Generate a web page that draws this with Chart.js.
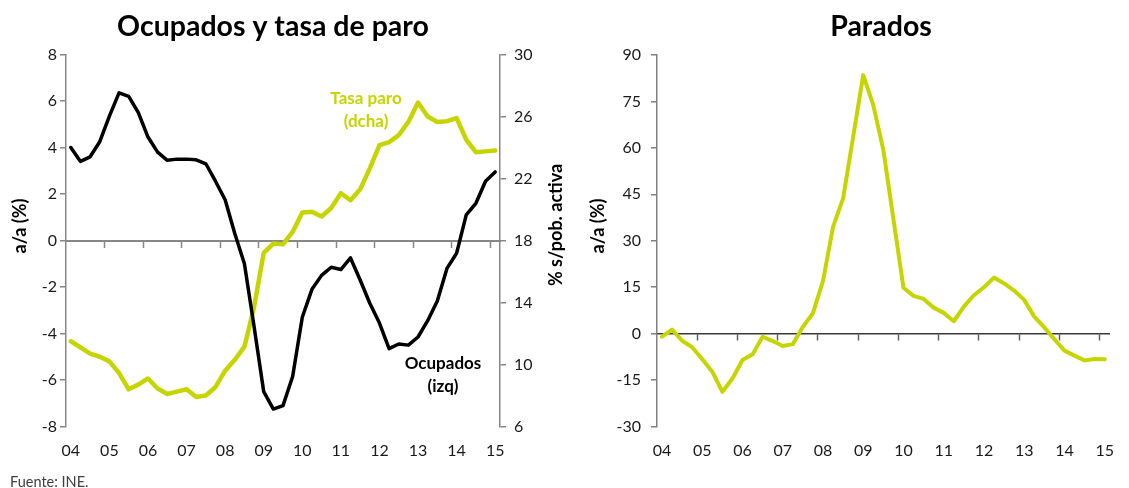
<!DOCTYPE html>
<html><head><meta charset="utf-8">
<script src="https://cdn.jsdelivr.net/npm/chart.js@4.4.1/dist/chart.umd.min.js"></script>
<style>
html,body{margin:0;padding:0;background:#fff;}
#wrap{position:relative;width:1129px;height:488px;overflow:hidden;background:#fff;}
#c1{position:absolute;left:0;top:0;}
#c2{position:absolute;left:570px;top:0;}
</style></head><body>
<div id="wrap"><canvas id="c1" width="570" height="488"></canvas><canvas id="c2" width="559" height="488"></canvas></div>
<script>
// ---- data ----
const quarters = [
 '2004T1','2004T2','2004T3','2004T4','2005T1','2005T2','2005T3','2005T4',
 '2006T1','2006T2','2006T3','2006T4','2007T1','2007T2','2007T3','2007T4',
 '2008T1','2008T2','2008T3','2008T4','2009T1','2009T2','2009T3','2009T4',
 '2010T1','2010T2','2010T3','2010T4','2011T1','2011T2','2011T3','2011T4',
 '2012T1','2012T2','2012T3','2012T4','2013T1','2013T2','2013T3','2013T4',
 '2014T1','2014T2','2014T3','2014T4','2015T1'];
const yearTicks = ['04','05','06','07','08','09','10','11','12','13','14','15'];
const ocupados = [4.0,3.4,3.6,4.25,5.35,6.35,6.2,5.5,4.45,3.8,3.45,3.5,3.5,3.47,3.3,2.55,
 1.75,0.3,-1.0,-3.7,-6.5,-7.25,-7.1,-5.85,-3.3,-2.1,-1.5,-1.15,-1.25,-0.75,-1.7,-2.7,
 -3.55,-4.65,-4.45,-4.5,-4.15,-3.45,-2.6,-1.2,-0.55,1.1,1.6,2.55,2.95];
const tasaParo = [11.5,11.1,10.7,10.5,10.2,9.45,8.4,8.7,9.1,8.45,8.1,8.25,8.4,7.9,8.0,8.55,
 9.6,10.3,11.15,13.7,17.2,17.8,17.75,18.55,19.8,19.85,19.55,20.1,21.05,20.6,21.3,22.65,
 24.15,24.35,24.8,25.65,26.9,26.0,25.65,25.7,25.9,24.5,23.7,23.75,23.8];
const parados = [-1.0,1.3,-2.3,-4.4,-8.3,-12.3,-18.8,-14.5,-8.5,-6.7,-1.0,-2.4,-4.0,-3.4,2.2,6.6,
 17.0,34.5,43.7,63.6,83.5,73.8,59.3,37.0,14.8,12.2,11.2,8.4,6.7,4.0,8.7,12.4,
 15.0,18.1,16.2,13.9,10.9,5.5,2.0,-1.8,-5.5,-7.1,-8.7,-8.2,-8.25];
// axis ranges [min, max, step]
const axisOcupados = [-8, 8, 2];
const axisTasa = [6, 30, 4];
const axisParados = [-30, 90, 15];

// ---- styles ----
const FONT = 'Lato, "Open Sans", sans-serif';
const GREEN = '#c6d500';
const TICKC = '#1a1a1a';
Chart.defaults.font.family = FONT;
Chart.defaults.color = TICKC;

const textPlugin = {
  id: 'freeText',
  afterDraw(chart, args, opts) {
    const ctx = chart.ctx;
    (opts.items || []).forEach(it => {
      ctx.save();
      ctx.font = it.font;
      ctx.fillStyle = it.color || '#000';
      ctx.textAlign = it.align || 'center';
      ctx.textBaseline = 'middle';
      ctx.translate(it.x, it.y);
      if (it.rot) ctx.rotate(it.rot * Math.PI / 180);
      ctx.fillText(it.text, 0, 0);
      ctx.restore();
    });
  }
};

function labelAxis(h) {
  return {
    type: 'category', axis: 'x', position: 'bottom', offset: true,
    grid: {display: false, drawTicks: false},
    border: {display: false},
    ticks: {autoSkip: false, maxRotation: 0, minRotation: 0, padding: 15,
      font: {size: 16}, color: TICKC,
      callback: (v, i) => (i % 4 === 0 ? yearTicks[i / 4] : '')},
    afterFit: s => { s.height = h; }
  };
}
function zeroAxis(color, width, tickColor) {
  return {
    type: 'category', axis: 'x', position: {y: 0}, offset: true,
    grid: {display: true, drawOnChartArea: false, drawTicks: true, tickLength: 6, offset: true, tickWidth: 1.5,
      tickColor: c => (c.index !== undefined && c.index > 0 && c.index % 4 === 0) ? tickColor : 'rgba(0,0,0,0)'},
    border: {display: true, color: color, width: width},
    ticks: {display: false, autoSkip: false}
  };
}
function valueAxis(pos, range, w, color, pad) {
  return {
    type: 'linear', position: pos, min: range[0], max: range[1],
    ticks: {stepSize: range[2], font: {size: 16}, color: TICKC, padding: pad},
    grid: {display: true, drawOnChartArea: false, drawTicks: true, tickLength: 6, color: color, lineWidth: 1.5},
    border: {display: true, color: color, width: 1.5},
    afterFit: s => { s.width = w; }
  };
}

new Chart(document.getElementById('c1'), {
  type: 'line',
  data: {
    labels: quarters,
    datasets: [
      {label: 'Ocupados (izq)', data: ocupados, xAxisID: 'x', yAxisID: 'y', borderColor: '#000', borderWidth: 3.5,
       pointRadius: 0, tension: 0, borderJoinStyle: 'round', borderCapStyle: 'round', fill: false},
      {label: 'Tasa paro (dcha)', data: tasaParo, xAxisID: 'x', yAxisID: 'y2', borderColor: GREEN, borderWidth: 4.5,
       pointRadius: 0, tension: 0, borderJoinStyle: 'round', borderCapStyle: 'round', fill: false}
    ]
  },
  options: {
    responsive: false, animation: false, events: [],
    layout: {padding: {top: 54.5, right: 24, left: 0, bottom: 0}},
    plugins: {
      legend: {display: false}, tooltip: {enabled: false},
      freeText: {items: [
        {text: 'Ocupados y tasa de paro', x: 273, y: 27, font: 'bold 28.5px ' + FONT},
        {text: 'a/a (%)', x: 20, y: 226, rot: -90, font: 'bold 18px ' + FONT},
        {text: '% s/pob. activa', x: 556, y: 225, rot: -90, font: 'bold 18px ' + FONT},
        {text: 'Tasa paro', x: 366, y: 98.5, color: GREEN, font: 'bold 17px ' + FONT},
        {text: '(dcha)', x: 366, y: 121.5, color: GREEN, font: 'bold 17px ' + FONT},
        {text: 'Ocupados', x: 443, y: 363.5, color: '#000', font: 'bold 17px ' + FONT},
        {text: '(izq)', x: 443, y: 386.5, color: '#000', font: 'bold 17px ' + FONT},
        {text: 'Fuente: INE.', x: 10, y: 482, align: 'left', color: '#404040', font: '14.5px ' + FONT}
      ]}
    },
    scales: {
      x: labelAxis(61.5),
      xZero: zeroAxis('#878787', 2, '#878787'),
      y: valueAxis('left', axisOcupados, 66, '#878787', 3),
      y2: valueAxis('right', axisTasa, 46, '#878787', 8)
    }
  },
  plugins: [textPlugin]
});

new Chart(document.getElementById('c2'), {
  type: 'line',
  data: {
    labels: quarters,
    datasets: [
      {label: 'Parados', data: parados, xAxisID: 'x', yAxisID: 'y', borderColor: GREEN, borderWidth: 4,
       pointRadius: 0, tension: 0, borderJoinStyle: 'round', borderCapStyle: 'round', fill: false}
    ]
  },
  options: {
    responsive: false, animation: false, events: [],
    layout: {padding: {top: 55, right: 5, left: 0, bottom: 0}},
    plugins: {
      legend: {display: false}, tooltip: {enabled: false},
      freeText: {items: [
        {text: 'Parados', x: 311, y: 27, font: 'bold 28.5px ' + FONT},
        {text: 'a/a (%)', x: 28, y: 226, rot: -90, font: 'bold 18px ' + FONT}
      ]}
    },
    scales: {
      x: labelAxis(61.5),
      xZero: zeroAxis('#3a3a3a', 1.5, '#606060'),
      y: valueAxis('left', axisParados, 87, '#808080', 10)
    }
  },
  plugins: [textPlugin]
});
</script>
</body></html>
